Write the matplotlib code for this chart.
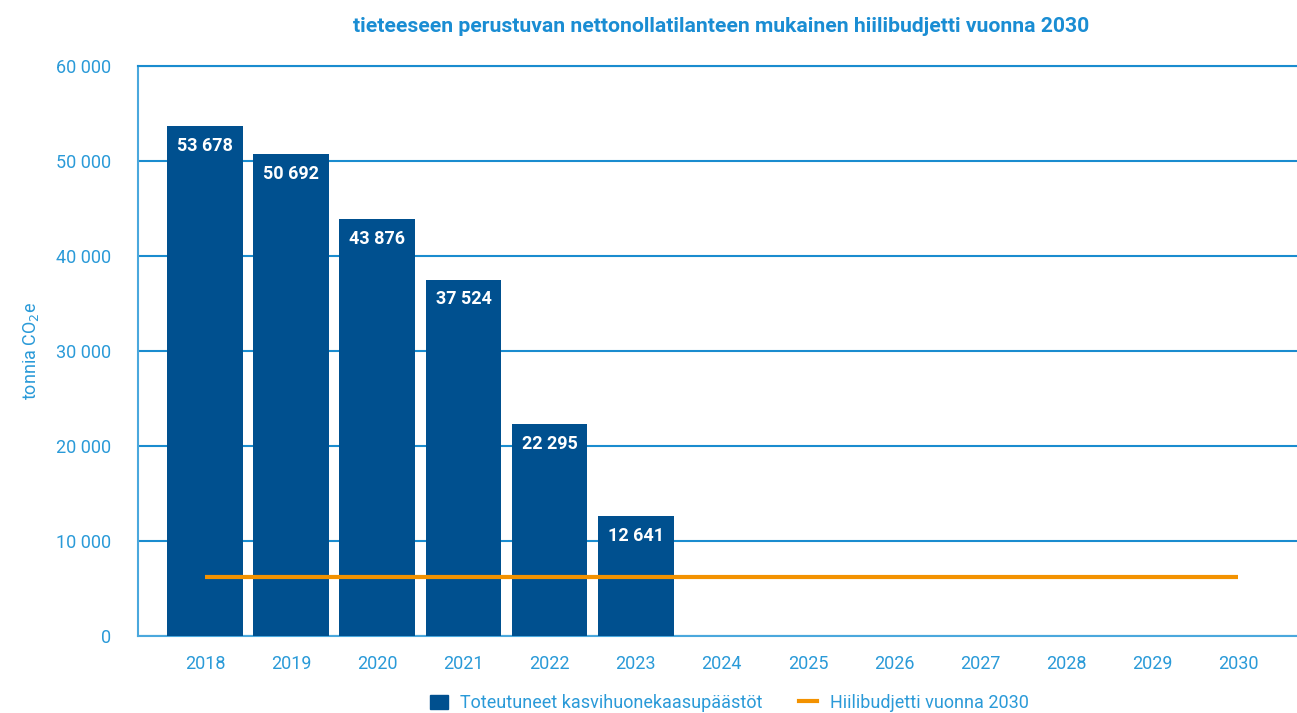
import matplotlib
matplotlib.use("Agg")
import matplotlib.pyplot as plt
from matplotlib.lines import Line2D
from matplotlib.patches import Patch

years = ["2018", "2019", "2020", "2021", "2022", "2023", "2024", "2025", "2026", "2027", "2028", "2029", "2030"]
emissions = [53678, 50692, 43876, 37524, 22295, 12641]
budget_2030 = 6200
yticks = [0, 10000, 20000, 30000, 40000, 50000, 60000]

BLUE = "#00508f"
ORANGE = "#f39200"
TXT = "#2a9ad8"
GRID = "#1a8ccf"

plt.rcParams['font.family'] = ['Roboto', 'DejaVu Sans']

fig = plt.figure(figsize=(12.97, 7.13), dpi=100)
ax = fig.add_axes([138/1297, 1-636/713, (1297-138)/1297, (636-66)/713])

x = list(range(len(years)))
bars = ax.bar(x[:len(emissions)], emissions, width=0.88, color=BLUE, zorder=3)
for xi, v in zip(x, emissions):
    ax.text(xi, v - 2100, f"{v:,}".replace(",", " "), ha="center", va="center",
            color="white", fontsize=13, fontweight="bold", zorder=4)

ax.plot([x[0], x[-1]], [budget_2030, budget_2030], color=ORANGE, lw=3, zorder=5,
        solid_capstyle="butt")

ax.set_xlim(-0.78, 12.68)
ax.set_ylim(0, 60000)
ax.set_yticks(yticks)
ax.set_yticklabels([f"{t:,}".replace(",", " ") for t in yticks])
ax.set_xticks(x)
ax.set_xticklabels(years)
ax.tick_params(axis="both", length=0, colors=TXT, labelsize=13)
ax.tick_params(axis="y", pad=19)
ax.tick_params(axis="x", pad=14)
ax.yaxis.grid(True, color=GRID, lw=1.5, zorder=0)
ax.spines["right"].set_visible(False)
ax.spines["left"].set_color("#4aa8dd")
ax.spines["left"].set_linewidth(1.5)
ax.spines["bottom"].set_color("#4aa8dd")
ax.spines["bottom"].set_linewidth(1.5)
ax.spines["top"].set_color(GRID)
ax.spines["top"].set_linewidth(1.5)

ax.set_ylabel("tonnia CO$_2$e", color=TXT, fontsize=13, labelpad=11)

fig.text(721/1297, 1-27/713, "tieteeseen perustuvan nettonollatilanteen mukainen hiilibudjetti vuonna 2030",
         ha="center", va="center", color="#1a8dd3", fontsize=15.2, fontweight="bold")

handles = [Patch(color=BLUE), Line2D([0], [0], color=ORANGE, lw=3)]
labels = ["Toteutuneet kasvihuonekaasupäästöt", "Hiilibudjetti vuonna 2030"]
leg = fig.legend(handles, labels, loc="center", bbox_to_anchor=(729/1297, 1-703/713),
                 ncol=2, frameon=False, fontsize=13, handlelength=1.0, handleheight=0.8,
                 columnspacing=2.0, handletextpad=0.7)
for t in leg.get_texts():
    t.set_color(TXT)

fig.savefig("out.png", dpi=100)
